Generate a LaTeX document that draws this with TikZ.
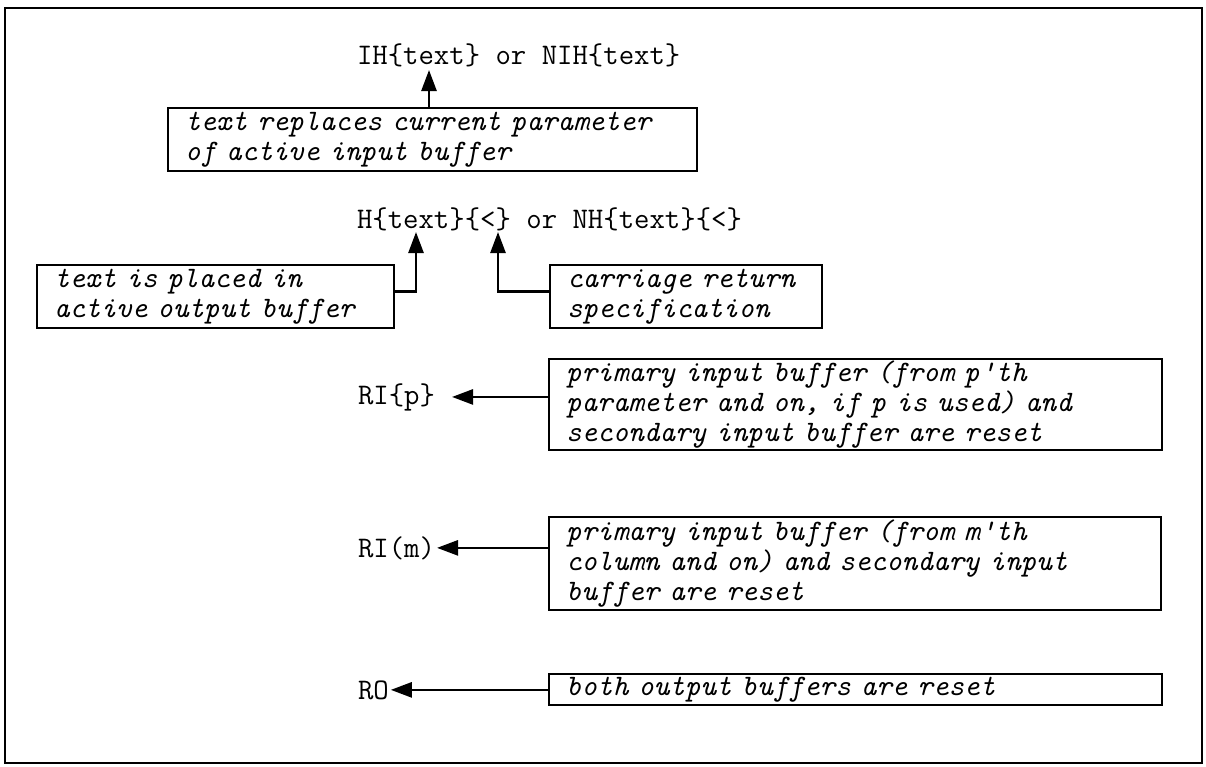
\documentclass[tikz,border=0pt]{standalone}
\usepackage{fontspec}
\usetikzlibrary{arrows.meta}
\begin{document}
\begin{tikzpicture}[x=1pt,y=-1pt,
  lab/.style={font=\ttfamily\upshape\fontsize{29.9}{30}\selectfont, inner sep=0pt, outer sep=0pt, anchor=base west},
  desc/.style={draw, line width=1.6pt, anchor=north west,
    font=\ttfamily\itshape\fontsize{29.7}{30}\selectfont,
    align=left, inner xsep=17pt, inner ysep=0pt, outer sep=0pt},
  arr/.style={line width=2.6pt, -{Triangle[length=21pt,width=15pt]}},
  frame/.style={line width=2.8pt}
]
\useasboundingbox (0,0) rectangle (1206,766);
\draw[frame] (5,8) rectangle (1202,763);

% top group
\node[lab] (ih) at (357,64) {IH\{text\} or NIH\{text\}};
\node[desc, text width=495pt, minimum height=63pt] (b1) at (168,108)
  {text replaces current parameter\\of active input buffer};
\coordinate (t1) at (429,70);
\draw[arr] (t1 |- b1.north) -- (t1);

% H group
\node[lab] (h) at (357,228) {H\{text\}\{<\} or NH\{text\}\{<\}};
\node[desc, text width=323pt, minimum height=63pt] (b2) at (37,265)
  {text is placed in\\active output buffer};
\node[desc, text width=238pt, minimum height=63pt] (b3) at (550,265)
  {carriage return\\specification};
\coordinate (t2) at (416,232);
\coordinate (t3) at (498,232);
\draw[arr] ([yshift=5pt]b2.east) -| (t2);
\draw[arr] ([yshift=5pt]b3.west) -| (t3);

% RI{p}
\node[lab] (rip) at (358,404) {RI\{p\}};
\node[desc, text width=579pt, minimum height=91pt] (bp) at (549,359)
  {primary input buffer (from p'th\\parameter and on, if p is used) and\\secondary input buffer are reset};
\draw[arr] (bp.west |- rip.east) -- ([xshift=17pt]rip.east);

% RI(m)
\node[lab] (rim) at (358,557) {RI(m)};
\node[desc, text width=578pt, minimum height=93pt] (bm) at (549,517)
  {primary input buffer (from m'th\\column and on) and secondary input\\buffer are reset};
\draw[arr] (bm.west |- rim.east) -- ([xshift=2pt]rim.east);

% RO
\node[lab] (ro) at (358,699) {RO};
\node[desc, text width=579pt, minimum height=31pt] (bo) at (549,674)
  {both output buffers are reset};
\draw[arr] (bo.west |- ro.east) -- ([xshift=2pt]ro.east);
\end{tikzpicture}
\end{document}
